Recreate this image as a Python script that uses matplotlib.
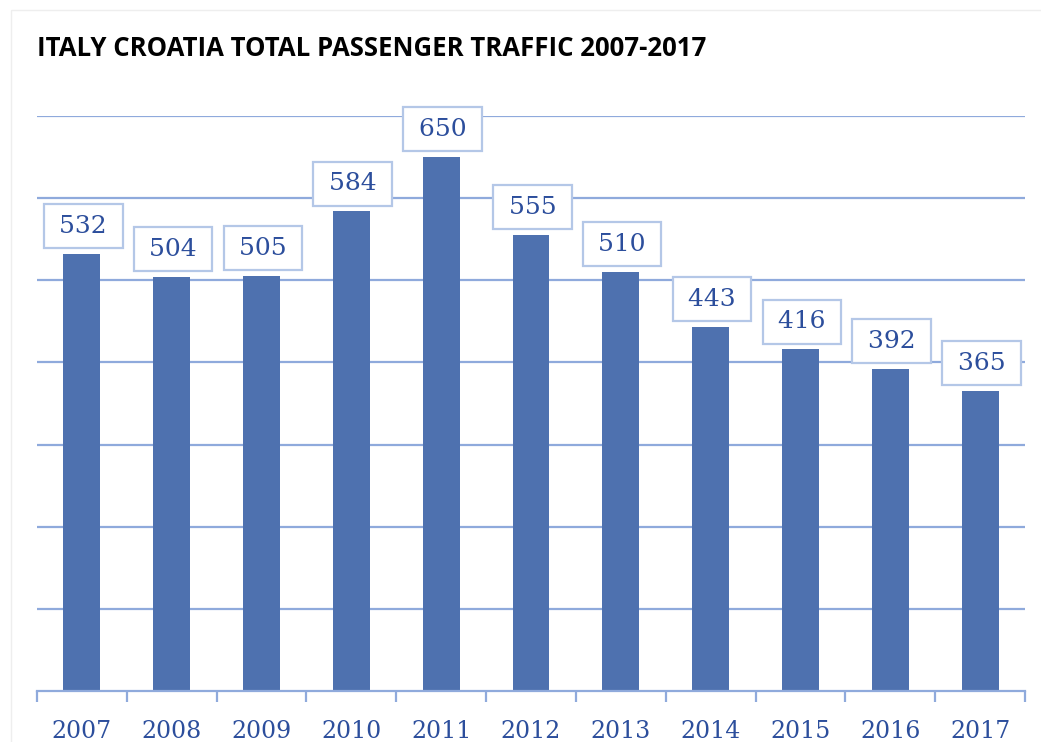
import matplotlib.pyplot as plt
from matplotlib.patches import Rectangle

years = ['2007', '2008', '2009', '2010', '2011', '2012', '2013', '2014', '2015', '2016', '2017']
passengers = [532, 504, 505, 584, 650, 555, 510, 443, 416, 392, 365]

bar_color = '#4E71AF'
grid_color = '#8FAADC'
text_color = '#2C4E9C'

fig = plt.figure(figsize=(10.41, 7.42), dpi=100)
ax = fig.add_axes([37 / 1041, 1 - 691 / 742, 988 / 1041, 575 / 742])

x = list(range(len(years)))
ax.bar(x, passengers, width=0.41, color=bar_color, zorder=2)

ax.set_xlim(-0.5, len(years) - 0.5)
ax.set_ylim(0, 700)
ax.set_yticks(range(100, 701, 100))
ax.yaxis.grid(True, color=grid_color, linewidth=1.6, zorder=0)
ax.tick_params(axis='y', left=False, labelleft=False)

# category boundary ticks below the baseline, labels centred under bars
ax.set_xticks([i - 0.5 for i in range(len(years) + 1)])
ax.set_xticks(x, minor=True)
ax.set_xticklabels([])
ax.set_xticklabels(years, minor=True, fontsize=17, family='DejaVu Serif', color=text_color)
ax.tick_params(axis='x', which='major', direction='out', length=8, width=1.6, color=grid_color)
ax.tick_params(axis='x', which='minor', length=0, pad=21)

for side in ['top', 'right', 'left']:
    ax.spines[side].set_visible(False)
ax.spines['bottom'].set_color(grid_color)
ax.spines['bottom'].set_linewidth(1.6)

for i, v in enumerate(passengers):
    ax.annotate('\u2009%d\u2009' % v, (i, v), xytext=(1, 20), textcoords='offset points',
                ha='center', va='center', fontsize=18, family='DejaVu Serif',
                color=text_color, zorder=4, annotation_clip=False,
                bbox=dict(boxstyle='square,pad=0.42', fc='white', ec='#B4C7E7', lw=1.6))

fig.text(37 / 1041, 1 - 48 / 742, 'ITALY CROATIA TOTAL PASSENGER TRAFFIC 2007-2017',
         fontsize=18.5, fontweight='bold', family='Open Sans', va='center', ha='left')

fig.patches.append(Rectangle((11 / 1041, -0.1), 1.2, 1.1 - 10 / 742,
                             transform=fig.transFigure, fill=False, ec='#EEEEEE', lw=1))

fig.savefig('out.png', dpi=100)
